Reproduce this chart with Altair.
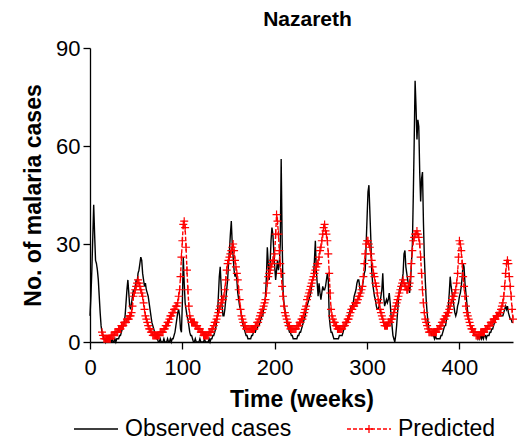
import altair as alt
import pandas as pd

FONT = "Liberation Sans"

SERIES = ["Observed cases", "Predicted"]
SERIES_COLORS = ["black", "red"]
X_TICKS = [0, 100, 200, 300, 400]
Y_TICKS = [0, 30, 60, 90]

# weekly observed cases, starting at week 0
OBS_START = 0
OBSERVED = [
    8, 14, 22, 32, 42, 33, 25, 24, 22, 19, 14, 9, 5, 3, 2, 1, 1, 0, 1, 0,
    0, 1, 0, 0, 1, 0, 0, 1, 0, 1, 1, 1, 2, 2, 3, 4, 5, 6, 8, 12,
    16, 19, 15, 11, 10, 12, 14, 16, 15, 17, 19, 18, 21, 22, 24, 26, 25, 21, 19, 17,
    18, 16, 15, 14, 12, 10, 8, 6, 5, 4, 3, 2, 1, 1, 0, 0, 1, 0, 0, 0,
    1, 0, 0, 0, 1, 0, 0, 1, 0, 1, 1, 2, 3, 5, 7, 9, 10, 8, 4, 3,
    12, 26, 18, 12, 10, 8, 7, 5, 3, 2, 2, 1, 0, 0, 1, 0, 0, 0, 0, 1,
    0, 0, 0, 0, 1, 0, 0, 0, 0, 1, 0, 1, 1, 2, 2, 3, 4, 6, 8, 14,
    20, 23, 17, 11, 8, 8, 10, 13, 16, 19, 24, 28, 33, 37, 30, 26, 22, 20, 21, 19,
    15, 13, 11, 10, 8, 6, 5, 4, 3, 2, 2, 1, 1, 1, 1, 2, 2, 3, 3, 3,
    4, 4, 5, 5, 6, 7, 8, 8, 10, 12, 14, 20, 29, 24, 19, 24, 31, 35, 33, 28,
    23, 19, 22, 25, 22, 24, 30, 56, 32, 16, 12, 10, 8, 6, 5, 4, 3, 3, 2, 2,
    1, 1, 1, 1, 1, 2, 2, 3, 3, 4, 5, 6, 7, 8, 10, 11, 12, 13, 14, 15,
    17, 19, 20, 25, 31, 22, 18, 14, 18, 15, 13, 15, 17, 16, 16, 17, 19, 21, 19, 8,
    5, 3, 3, 2, 1, 1, 1, 1, 1, 1, 2, 2, 2, 2, 3, 4, 5, 5, 6, 7,
    8, 9, 10, 11, 11, 12, 14, 15, 16, 18, 19, 19, 17, 15, 15, 17, 19, 21, 22, 30,
    38, 46, 48, 40, 32, 22, 18, 16, 14, 13, 11, 10, 10, 11, 12, 14, 16, 21, 14, 11,
    12, 13, 12, 13, 15, 12, 8, 5, 2, 1, 0, 2, 5, 9, 13, 16, 17, 18, 19, 21,
    27, 28, 23, 21, 19, 17, 15, 18, 24, 29, 44, 61, 80, 72, 62, 68, 66, 52, 43, 50,
    52, 37, 26, 19, 13, 9, 6, 4, 3, 3, 2, 2, 2, 1, 2, 1, 1, 1, 1, 1,
    2, 2, 3, 4, 5, 5, 7, 9, 11, 15, 20, 17, 15, 13, 11, 9, 8, 9, 11, 12,
    14, 15, 17, 20, 24, 23, 18, 15, 12, 9, 7, 6, 5, 4, 3, 3, 2, 2, 2, 2,
    1, 2, 1, 2, 1, 2, 1, 2, 2, 1, 2, 2, 2, 3, 3, 4, 4, 5, 6, 7,
    8, 8, 9, 9, 9, 8, 8, 8, 9, 10, 11, 10, 11, 9, 8, 7, 7, 6, 6,
]

# weekly predicted cases, starting at week 13
PRED_START = 13
PREDICTED = [
    3, 2, 1, 1, 1, 1, 1,
    1, 1, 1, 2, 2, 2, 2, 3, 3, 3, 3, 4, 4, 4, 5, 5, 5, 6, 6, 6,
    7, 7, 7, 8, 8, 9, 11, 14, 15, 16, 17, 18, 19, 18, 17, 16, 15, 14, 12, 10,
    8, 7, 6, 5, 4, 4, 3, 3, 2, 2, 2, 2, 2, 2, 2, 2, 3, 3, 3, 3,
    4, 4, 5, 5, 6, 6, 7, 8, 8, 9, 9, 10, 10, 11, 11, 12, 14, 16, 20, 26,
    31, 36, 37, 35, 29, 22, 16, 11, 8, 7, 6, 6, 6, 6, 5, 5, 5, 4, 4, 4,
    3, 3, 3, 2, 2, 2, 2, 2, 2, 3, 3, 3, 4, 4, 5, 6, 6, 7, 8, 9,
    10, 11, 12, 13, 13, 14, 16, 19, 22, 24, 25, 26, 27, 28, 29, 30, 28, 25, 23, 21,
    19, 16, 13, 10, 8, 7, 6, 5, 5, 4, 4, 4, 4, 4, 4, 4, 4, 4, 4, 5,
    5, 6, 6, 7, 8, 9, 9, 10, 11, 12, 13, 15, 18, 20, 21, 22, 23, 24, 25, 25,
    27, 33, 39, 37, 33, 28, 24, 21, 17, 14, 11, 9, 8, 7, 6, 5, 5, 4, 4, 4,
    4, 4, 4, 4, 5, 5, 5, 6, 6, 7, 7, 8, 9, 10, 11, 13, 14, 15, 16, 17,
    18, 19, 20, 21, 22, 23, 24, 24, 26, 28, 29, 31, 33, 35, 36, 34, 33, 31, 27, 21,
    15, 10, 8, 7, 6, 6, 5, 5, 4, 4, 4, 4, 4, 4, 5, 5, 5, 6, 6, 7,
    7, 8, 9, 10, 10, 11, 11, 12, 12, 12, 13, 14, 14, 15, 16, 17, 20, 24, 27, 30,
    31, 31, 30, 29, 27, 25, 23, 21, 20, 18, 17, 15, 13, 12, 10, 9, 8, 7, 6, 5,
    5, 5, 5, 6, 6, 6, 7, 7, 8, 9, 10, 11, 12, 13, 14, 15, 16, 17, 18, 19,
    18, 17, 17, 16, 16, 17, 18, 20, 24, 28, 31, 32, 33, 33, 34, 33, 32, 30, 26, 21,
    16, 12, 9, 7, 6, 5, 4, 3, 3, 3, 3, 3, 3, 3, 3, 3, 4, 4, 4, 5,
    5, 6, 6, 7, 7, 8, 8, 9, 9, 10, 11, 12, 13, 14, 14, 15, 16, 18, 21, 26,
    31, 30, 28, 24, 20, 17, 14, 11, 9, 8, 7, 6, 5, 4, 4, 3, 3, 3, 2, 2,
    2, 2, 2, 3, 3, 3, 3, 3, 4, 4, 4, 5, 5, 5, 6, 6, 6, 7, 7, 7,
    8, 8, 8, 9, 9, 10, 11, 12, 14, 17, 21, 24, 25, 24, 20, 17, 14, 10, 7,
]

PLUS = "M-1,0H1M0,-1V1"

obs_df = pd.DataFrame({
    "week": list(range(OBS_START, OBS_START + len(OBSERVED))),
    "cases": OBSERVED,
    "series": SERIES[0],
})
pred_df = pd.DataFrame({
    "week": list(range(PRED_START, PRED_START + len(PREDICTED))),
    "cases": PREDICTED,
    "series": SERIES[1],
    "marker": SERIES[1],
})
df = pd.concat([obs_df, pred_df.drop(columns="marker")], ignore_index=True)

x_enc = alt.X(
    "week:Q",
    scale=alt.Scale(domain=[0, 458], nice=False, zero=False),
    axis=alt.Axis(values=X_TICKS, title="Time (weeks)", labelPadding=8,
                  titlePadding=10, format="d", labelFlush=False),
)
y_enc = alt.Y(
    "cases:Q",
    scale=alt.Scale(domain=[0, 90], nice=False),
    axis=alt.Axis(values=Y_TICKS, title="No. of malaria cases", labelPadding=3,
                  titlePadding=10, format="d", labelFlush=False),
)

line_legend = alt.Legend(title=None)

lines = alt.Chart(df).mark_line(strokeWidth=1.4, strokeJoin="miter").encode(
    x=x_enc,
    y=y_enc,
    color=alt.Color("series:N", scale=alt.Scale(domain=SERIES, range=SERIES_COLORS),
                    legend=line_legend),
    strokeDash=alt.StrokeDash("series:N",
                              scale=alt.Scale(domain=SERIES, range=[[1, 0], [4, 2]]),
                              legend=line_legend),
)

# the "+" marker of the predicted series; its one-entry legend sits on the
# middle of the dashed legend line
points = alt.Chart(pred_df).mark_point(
    size=64, filled=False, strokeWidth=1.2, color="red", opacity=1,
).encode(
    x=x_enc,
    y=y_enc,
    shape=alt.Shape("marker:N",
                    scale=alt.Scale(domain=[SERIES[1]], range=[PLUS]),
                    legend=alt.Legend(title=None, orient="none", legendX=274,
                                      legendY=376, symbolType=PLUS, symbolSize=64,
                                      symbolStrokeWidth=1.3, symbolStrokeColor="red",
                                      labelExpr="''", labelFontSize=1, padding=0)),
)

chart = alt.layer(lines, points).properties(
    width=423,
    height=294,
    padding={"left": 90, "top": 48, "right": 17, "bottom": 98},
    autosize=alt.AutoSizeParams(type="none"),
    title=alt.TitleParams("Nazareth", font=FONT, fontSize=21, fontWeight="bold",
                          color="black", anchor="middle", frame="group",
                          offset=7, dx=6),
).configure_view(
    strokeWidth=0
).configure_axis(
    grid=False,
    domainColor="black", domainWidth=1.3,
    tickColor="black", tickWidth=1.3, tickSize=7,
    labelColor="black", labelFont=FONT, labelFontSize=22,
    titleColor="black", titleFont=FONT, titleFontSize=23, titleFontWeight="bold",
).configure_legend(
    orient="none", legendX=-17, legendY=358, direction="horizontal",
    symbolType="stroke", symbolSize=1936, symbolStrokeWidth=1.5,
    labelFont=FONT, labelFontSize=23, labelColor="black", labelOffset=6,
    labelLimit=400, columnPadding=52, padding=0,
)

chart.save("out.html", embed_options={"renderer": "svg", "actions": False})
